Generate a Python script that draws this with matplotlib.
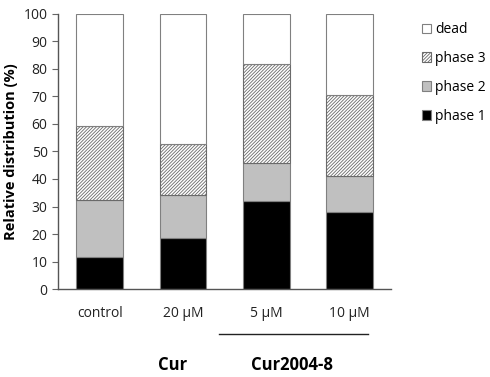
import numpy as np
import matplotlib.pyplot as plt

plt.rcParams['font.family'] = ['Open Sans', 'DejaVu Sans']
plt.rcParams['hatch.linewidth'] = 0.6

categories = ['control', '20 µM', '5 µM', '10 µM']
phase1 = [11.5, 18.4, 32.0, 28.1]
phase2 = [21.0, 15.9, 13.8, 12.9]
phase3 = [26.7, 18.4, 35.9, 29.7]
dead = [40.8, 47.3, 18.3, 29.3]

fig = plt.figure(figsize=(4.9, 3.77), dpi=100)
ax = fig.add_axes([0.1184, 0.2334, 0.680, 0.7295])

x = np.arange(len(categories))
w = 0.56
edge = '#808080'
b1 = ax.bar(x, phase1, w, color='black', edgecolor=edge, linewidth=0.8, label='phase 1')
bottom = np.array(phase1)
b2 = ax.bar(x, phase2, w, bottom=bottom, color='#c0c0c0', edgecolor=edge, linewidth=0.8, label='phase 2')
bottom = bottom + np.array(phase2)
b3 = ax.bar(x, phase3, w, bottom=bottom, color='white', edgecolor='#6a6a6a', hatch='//////////',
            linewidth=0.8, label='phase 3')
bottom = bottom + np.array(phase3)
b4 = ax.bar(x, dead, w, bottom=bottom, color='white', edgecolor=edge, linewidth=0.8, label='dead')

ax.set_xlim(-0.5, 3.5)
ax.set_ylim(0, 100)
ax.set_yticks(range(0, 101, 10))
ax.set_xticks(x)
ax.set_xticklabels(categories)
ax.tick_params(axis='x', length=0, pad=12, labelsize=10, colors='#222222')
ax.tick_params(axis='y', length=4, width=0.8, color='#666666', labelsize=10, labelcolor='#222222', direction='out')
for s in ['top', 'right']:
    ax.spines[s].set_visible(False)
for s in ['left', 'bottom']:
    ax.spines[s].set_color('#555555')
    ax.spines[s].set_linewidth(1.0)
ax.set_ylabel('Relative distribution (%)', fontsize=10.5, fontweight='bold', labelpad=4)

leg = ax.legend([b4, b3, b2, b1], ['dead', 'phase 3', 'phase 2', 'phase 1'],
                loc='upper left', bbox_to_anchor=(1.075, 0.99), frameon=False,
                fontsize=10, handlelength=0.7, handleheight=0.7, handletextpad=0.25,
                labelspacing=1.0, borderaxespad=0)

# group annotations below the axis
fig.add_artist(plt.Line2D([219 / 490, 368 / 490], [1 - 334 / 377, 1 - 334 / 377],
                          color='#222222', linewidth=1.0))
fig.text(173 / 490, 1 - 365 / 377, 'Cur', ha='center', va='center', fontsize=12, fontweight='bold')
fig.text(292 / 490, 1 - 365 / 377, 'Cur2004-8', ha='center', va='center', fontsize=12, fontweight='bold')

fig.savefig('out.png', dpi=100)
